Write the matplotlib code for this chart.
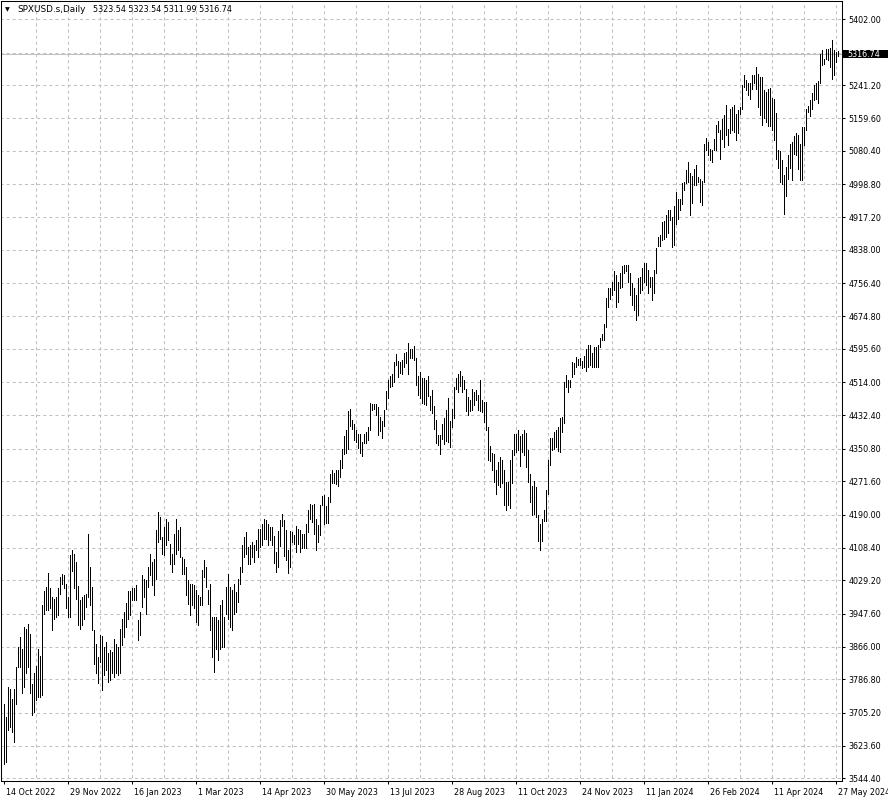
import matplotlib
matplotlib.use("Agg")
import matplotlib.pyplot as plt
from matplotlib.patches import Rectangle
from matplotlib.transforms import blended_transform_factory, ScaledTranslation

# daily bars (high / low), oldest first
highs = [
    3727, 3694, 3768, 3764, 3739, 3764, 3817, 3866, 3890, 3862,
    3915, 3911, 3921, 3898, 3776, 3801, 3819, 3862, 3843, 3968,
    4004, 4013, 4047, 4011, 3988, 3984, 3988, 4009, 4036, 4045,
    4041, 4021, 3988, 4090, 4104, 4094, 4074, 4014, 3982, 3988,
    3994, 3996, 4143, 4062, 4013, 3907, 3872, 3841, 3894, 3893,
    3866, 3878, 3850, 3858, 3854, 3886, 3874, 3866, 3911, 3935,
    3952, 3974, 4004, 4003, 4009, 4009, 4017, 3931, 3951, 4041,
    4033, 4029, 4062, 4094, 4074, 4082, 4151, 4196, 4184, 4135,
    4160, 4180, 4172, 4119, 4094, 4143, 4178, 4151, 4160, 4086,
    4082, 4062, 4029, 4021, 4021, 4017, 4005, 3992, 3988, 4054,
    4078, 4062, 4005, 4021, 3939, 3939, 3939, 3931, 3968, 3980,
    3939, 4013, 4045, 4013, 4005, 4021, 4000, 4033, 4062, 4115,
    4135, 4147, 4111, 4115, 4123, 4115, 4127, 4155, 4155, 4168,
    4180, 4176, 4168, 4160, 4160, 4137, 4098, 4149, 4176, 4191,
    4176, 4151, 4103, 4149, 4147, 4139, 4161, 4155, 4151, 4143,
    4142, 4166, 4202, 4215, 4213, 4215, 4180, 4165, 4213, 4235,
    4237, 4210, 4233, 4290, 4300, 4292, 4300, 4300, 4324, 4350,
    4382, 4396, 4443, 4449, 4421, 4411, 4398, 4388, 4386, 4368,
    4388, 4392, 4403, 4463, 4460, 4460, 4460, 4452, 4429, 4419,
    4447, 4492, 4519, 4528, 4535, 4563, 4582, 4566, 4563, 4567,
    4585, 4588, 4610, 4596, 4596, 4602, 4572, 4528, 4539, 4523,
    4523, 4519, 4528, 4479, 4494, 4455, 4422, 4384, 4384, 4411,
    4427, 4445, 4476, 4419, 4449, 4502, 4523, 4533, 4541, 4528,
    4519, 4498, 4478, 4471, 4496, 4490, 4494, 4482, 4519, 4470,
    4465, 4465, 4403, 4357, 4341, 4339, 4298, 4319, 4331, 4323,
    4300, 4270, 4270, 4324, 4347, 4388, 4388, 4398, 4382, 4386,
    4398, 4390, 4347, 4290, 4261, 4272, 4257, 4188, 4167, 4179,
    4200, 4249, 4323, 4378, 4378, 4392, 4398, 4403, 4425, 4429,
    4515, 4531, 4519, 4519, 4564, 4561, 4576, 4570, 4572, 4566,
    4578, 4594, 4605, 4605, 4586, 4601, 4599, 4605, 4621, 4632,
    4656, 4719, 4744, 4744, 4758, 4785, 4777, 4760, 4782, 4799,
    4801, 4801, 4801, 4781, 4756, 4744, 4727, 4768, 4772, 4793,
    4805, 4805, 4789, 4772, 4772, 4789, 4842, 4869, 4874, 4906,
    4908, 4922, 4935, 4936, 4918, 4944, 4979, 4963, 4961, 5001,
    5004, 5032, 5053, 5026, 5018, 5036, 5045, 5016, 5012, 5006,
    5096, 5112, 5102, 5085, 5083, 5110, 5143, 5153, 5130, 5159,
    5167, 5192, 5134, 5183, 5187, 5192, 5171, 5181, 5187, 5240,
    5265, 5254, 5245, 5246, 5265, 5265, 5285, 5267, 5261, 5260,
    5228, 5224, 5232, 5234, 5210, 5206, 5173, 5083, 5079, 5057,
    5020, 5041, 5069, 5096, 5102, 5116, 5124, 5118, 5098, 5138,
    5138, 5183, 5191, 5204, 5222, 5240, 5245, 5251, 5318, 5326,
    5306, 5330, 5330, 5332, 5351, 5326, 5322, 5323.54,
]
lows = [
    3580, 3584, 3662, 3670, 3658, 3633, 3727, 3817, 3817, 3752,
    3768, 3801, 3817, 3752, 3699, 3707, 3735, 3743, 3743, 3748,
    3947, 3956, 3956, 3960, 3907, 3935, 3939, 3943, 3996, 4021,
    4009, 3960, 3939, 3939, 4052, 4009, 3984, 3919, 3911, 3919,
    3935, 3964, 3988, 3968, 3907, 3825, 3801, 3778, 3829, 3760,
    3797, 3809, 3780, 3784, 3801, 3792, 3801, 3797, 3801, 3870,
    3890, 3915, 3935, 3943, 3980, 3980, 3980, 3882, 3894, 3964,
    3988, 3947, 4013, 4041, 4017, 3992, 4033, 4123, 4131, 4094,
    4090, 4115, 4127, 4070, 4049, 4070, 4094, 4102, 4086, 4045,
    4045, 3992, 3972, 3943, 3968, 3960, 3927, 3919, 3968, 3968,
    4037, 4013, 3972, 3907, 3841, 3805, 3862, 3833, 3862, 3866,
    3866, 3947, 3935, 3915, 3907, 3947, 3952, 3976, 4021, 4049,
    4086, 4094, 4070, 4070, 4086, 4074, 4102, 4086, 4111, 4115,
    4131, 4131, 4115, 4127, 4115, 4071, 4049, 4062, 4112, 4161,
    4088, 4078, 4047, 4062, 4123, 4119, 4098, 4119, 4098, 4107,
    4107, 4109, 4147, 4178, 4172, 4143, 4104, 4123, 4139, 4213,
    4168, 4169, 4169, 4221, 4266, 4266, 4264, 4260, 4282, 4304,
    4339, 4341, 4351, 4406, 4400, 4372, 4368, 4354, 4341, 4333,
    4364, 4364, 4373, 4396, 4445, 4449, 4433, 4384, 4395, 4378,
    4406, 4448, 4474, 4501, 4505, 4514, 4555, 4527, 4537, 4535,
    4551, 4561, 4535, 4574, 4572, 4569, 4506, 4482, 4474, 4463,
    4461, 4457, 4479, 4445, 4439, 4400, 4364, 4360, 4338, 4376,
    4362, 4370, 4368, 4355, 4404, 4427, 4498, 4490, 4504, 4490,
    4498, 4444, 4433, 4444, 4447, 4457, 4471, 4445, 4444, 4441,
    4417, 4398, 4323, 4320, 4298, 4270, 4241, 4262, 4258, 4266,
    4213, 4200, 4213, 4205, 4266, 4335, 4343, 4347, 4308, 4343,
    4335, 4306, 4270, 4220, 4190, 4192, 4184, 4126, 4103, 4125,
    4174, 4175, 4241, 4310, 4347, 4351, 4355, 4345, 4343, 4392,
    4413, 4501, 4490, 4503, 4527, 4534, 4552, 4556, 4556, 4548,
    4552, 4542, 4552, 4556, 4552, 4552, 4550, 4552, 4601, 4617,
    4617, 4650, 4699, 4717, 4727, 4740, 4699, 4709, 4744, 4748,
    4781, 4785, 4760, 4727, 4703, 4691, 4666, 4678, 4732, 4740,
    4760, 4752, 4732, 4748, 4715, 4733, 4781, 4846, 4848, 4861,
    4865, 4869, 4879, 4910, 4845, 4849, 4902, 4914, 4936, 4951,
    4985, 5001, 5004, 4922, 4953, 4996, 4996, 5004, 4955, 4947,
    5004, 5081, 5069, 5057, 5053, 5081, 5081, 5126, 5059, 5110,
    5090, 5118, 5094, 5124, 5130, 5126, 5106, 5124, 5171, 5183,
    5236, 5230, 5216, 5208, 5232, 5246, 5232, 5187, 5167, 5143,
    5160, 5150, 5140, 5140, 5130, 5106, 5060, 5038, 5005, 4999,
    4926, 4969, 5010, 5038, 5008, 5073, 5069, 5036, 5008, 5008,
    5094, 5130, 5175, 5165, 5183, 5204, 5208, 5196, 5245, 5289,
    5293, 5306, 5302, 5285, 5257, 5265, 5298, 5311.99,
]
last_ohlc = [5323.54, 5323.54, 5311.99, 5316.74]
symbol = "SPXUSD.s,Daily"

date_labels = [
    "14 Oct 2022", "29 Nov 2022", "16 Jan 2023", "1 Mar 2023", "14 Apr 2023",
    "30 May 2023", "13 Jul 2023", "28 Aug 2023", "11 Oct 2023", "24 Nov 2023",
    "11 Jan 2024", "26 Feb 2024", "11 Apr 2024", "27 May 2024",
]
price_labels = [
    "5402.00", "5320.40", "5241.20", "5159.60", "5080.40", "4998.80",
    "4917.20", "4838.00", "4756.40", "4674.80", "4595.60", "4514.00",
    "4432.40", "4350.80", "4271.60", "4190.00", "4108.40", "4029.20",
    "3947.60", "3866.00", "3786.80", "3705.20", "3623.60", "3544.40",
]

W, H = 888, 802
GRID = "#c0c0c0"
FS = 5.8
plt.rcParams["font.family"] = "DejaVu Sans"
plt.rcParams["lines.scale_dashes"] = False

fig = plt.figure(figsize=(W / 100, H / 100), dpi=100)
fig.patch.set_facecolor("white")
ax = fig.add_axes([1 / W, 21 / H, 841 / W, 780 / H])

n = len(highs)
xs = list(range(n))
ax.set_xlim(-1.25, 419.25)
ax.set_ylim(3537.8, 5446.8)

# grid
price_ticks = [float(p) for p in price_labels]
date_ticks = [32 * i for i in range(len(date_labels))]
ax.hlines(price_ticks, -2, n + 5, colors=GRID, lw=0.75, linestyles=(0, (2.2, 2.2)), zorder=1)
ax.vlines(range(16, n, 16), 3500, 5500, colors=GRID, lw=0.75, linestyles=(0, (2.2, 2.2)), zorder=1)

# bid line
ax.axhline(last_ohlc[3], color=GRID, lw=0.75, zorder=1)

# bars
ax.vlines(xs, lows, highs, colors="black", lw=0.6, antialiased=False, zorder=3)

for s in ax.spines.values():
    s.set_color("black")
    s.set_linewidth(0.75)

ax.yaxis.tick_right()
ax.set_yticks(price_ticks)
ax.set_yticklabels([p if p != "5320.40" else "" for p in price_labels])
ax.set_xticks(date_ticks)
ax.set_xticklabels(date_labels)
ax.tick_params(axis="y", length=2.4, width=0.75, pad=2.5, labelsize=FS, colors="black")
ax.tick_params(axis="x", length=2.4, width=0.75, pad=2.5, labelsize=FS, colors="black")
off = ScaledTranslation(2 / 100, 0, fig.dpi_scale_trans)
for lab in ax.get_xticklabels():
    lab.set_horizontalalignment("left")
    lab.set_transform(lab.get_transform() + off)

# last price marker on the price scale
tr = blended_transform_factory(fig.transFigure, ax.transData)
ax.add_patch(Rectangle((843 / W, last_ohlc[3] - 10.5), 45 / W, 21,
                       transform=tr, facecolor="black", edgecolor="none",
                       clip_on=False, zorder=10))
ax.text(847 / W, last_ohlc[3], f"{last_ohlc[3]:.2f}", transform=tr, color="white",
        fontsize=FS, va="center", ha="left", clip_on=False, zorder=11)

# header
fig.text(5 / W, 1 - 10 / H, "\u25bc", fontsize=4.5, va="center", ha="left")
fig.text(17.5 / W, 1 - 10 / H, symbol, fontsize=6.4, va="center", ha="left")
fig.text(93 / W, 1 - 10 / H, " ".join(f"{v:.2f}" for v in last_ohlc),
         fontsize=FS, va="center", ha="left")

fig.savefig("out.png", dpi=100, facecolor="white")
